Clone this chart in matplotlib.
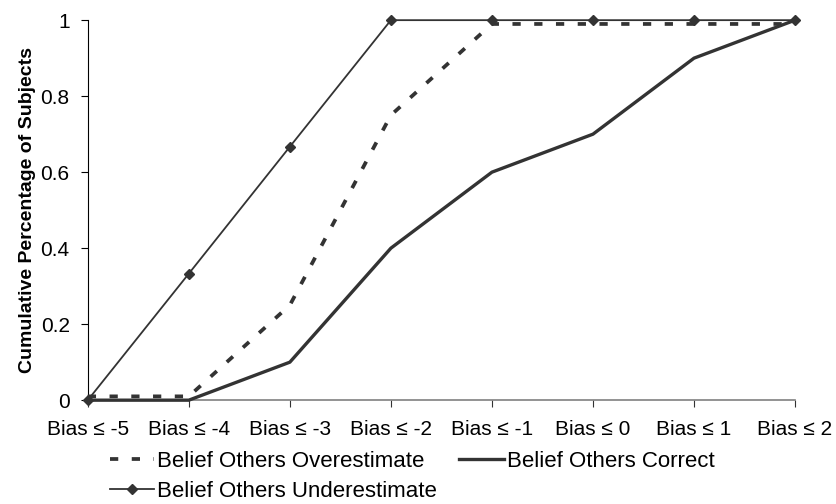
import matplotlib
matplotlib.use("Agg")
import matplotlib.pyplot as plt

categories = ["Bias \u2264 -5", "Bias \u2264 -4", "Bias \u2264 -3", "Bias \u2264 -2",
              "Bias \u2264 -1", "Bias \u2264 0", "Bias \u2264 1", "Bias \u2264 2"]
overestimate = [0.01, 0.01, 0.25, 0.75, 0.99, 0.99, 0.99, 0.99]
correct = [0.0, 0.0, 0.1, 0.4, 0.6, 0.7, 0.9, 1.0]
underestimate = [0.0, 0.333, 0.667, 1.0, 1.0, 1.0, 1.0, 1.0]
yticks = [0, 0.2, 0.4, 0.6, 0.8, 1]
ytick_labels = ["0", "0.2", "0.4", "0.6", "0.8", "1"]

plt.rcParams["font.family"] = ["Liberation Sans", "DejaVu Sans"]

fig = plt.figure(figsize=(8.36, 5.04), dpi=100)
ax = fig.add_axes([0.105, 0.206, 0.846, 0.754])
x = list(range(len(categories)))

ax.plot(x, overestimate, color="#333333", lw=2.7, ls=(0, (2.2, 3.6)),
        label="Belief Others Overestimate", clip_on=False, zorder=3)
ax.plot(x, underestimate, color="#333333", lw=1.3, marker="D", ms=5.5,
        label="Belief Others Underestimate", clip_on=False, zorder=4)
ax.plot(x, correct, color="#333333", lw=2.4,
        label="Belief Others Correct", clip_on=False, zorder=3)

ax.set_xlim(0, 7)
ax.set_ylim(0, 1)
ax.set_xticks(x)
ax.set_xticklabels(categories, fontsize=15)
ax.set_yticks(yticks)
ax.set_yticklabels(ytick_labels, fontsize=15)
ax.set_ylabel("Cumulative Percentage of Subjects", fontsize=14, fontweight="bold", labelpad=3)

ax.spines["top"].set_visible(False)
ax.spines["right"].set_visible(False)
ax.spines["bottom"].set_color("#808080")
ax.spines["bottom"].set_linewidth(1.2)
ax.spines["left"].set_color("black")
ax.tick_params(axis="x", direction="out", length=5, color="#333333", pad=9)
ax.tick_params(axis="y", direction="out", length=5, pad=8)

ax.legend(loc="upper left", bbox_to_anchor=(0.131, 0.106), bbox_transform=fig.transFigure,
          ncol=2, frameon=False, fontsize=16, handlelength=2.0, columnspacing=1.0,
          labelspacing=0.42, handletextpad=0.15, borderpad=0, borderaxespad=0)

fig.savefig("out.png", dpi=100)
